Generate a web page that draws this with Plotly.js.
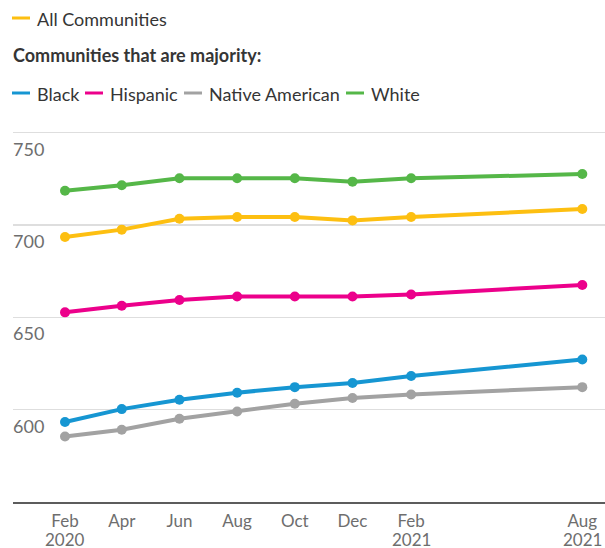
<!DOCTYPE html>
<html>
<head>
<meta charset="utf-8">
<script src="https://cdn.plot.ly/plotly-3.0.1.min.js"></script>
<style>html,body{margin:0;padding:0;background:#fff;}#chart{width:605px;height:548px;}</style>
</head>
<body>
<div id="chart"></div>
<script>
// ---- data ----
const dates = ['2020-02-01','2020-04-01','2020-06-01','2020-08-01','2020-10-01','2020-12-01','2021-02-01','2021-08-01'];
const tickMonths = ['Feb','Apr','Jun','Aug','Oct','Dec','Feb','Aug'];
const tickYears = ['2020','','','','','','2021','2021'];
const allCommunities = [693.5, 697.5, 703.4, 704.3, 704.3, 702.5, 704.3, 708.7];
const majorityBlack = [593.3, 600.3, 605.4, 609.2, 612.2, 614.4, 618.2, 627.2];
const majorityHispanic = [652.7, 656.3, 659.4, 661.3, 661.3, 661.3, 662.4, 667.5];
const majorityNativeAmerican = [585.5, 589.1, 595.1, 599.0, 603.2, 606.3, 608.2, 612.2];
const majorityWhite = [718.6, 721.5, 725.3, 725.3, 725.3, 723.5, 725.3, 727.6];
const yTickVals = [600, 650, 700, 750];

const seriesNames = ['All Communities','Black','Hispanic','Native American','White'];
const seriesValues = [allCommunities, majorityBlack, majorityHispanic, majorityNativeAmerican, majorityWhite];
const seriesColors = ['#fdbf11','#1696d2','#ec008b','#a2a2a2','#55b748'];
const legendTitle = 'Communities that are majority:';

// ---- layout helpers (pixel -> paper) ----
const W = 605, H = 548, mL = 13, mR = 0, mT = 129, mB = 46;
const px = x => (x - mL) / (W - mL - mR);
const py = y => (H - mB - y) / (H - mT - mB);

const order = [4, 0, 2, 1, 3];
const traces = order.map(i => ({
  type: 'scatter', mode: 'lines+markers', name: seriesNames[i],
  x: dates, y: seriesValues[i],
  line: {color: seriesColors[i], width: 4},
  marker: {color: seriesColors[i], size: 10},
  showlegend: false, hoverinfo: 'x+y+name'
}));

// custom legend: positions (px) of swatch starts
const legendPos = [[12, 18], [12, 93], [85, 93], [184, 93], [346, 93]];
const shapes = [], annotations = [];
seriesNames.forEach((n, i) => {
  const [lx, ly] = legendPos[i];
  shapes.push({type: 'line', xref: 'paper', yref: 'paper',
    x0: px(lx), x1: px(lx + 18), y0: py(ly), y1: py(ly),
    line: {color: seriesColors[i], width: 3}});
  annotations.push({xref: 'paper', yref: 'paper', x: px(lx + 23), y: py(ly + 1),
    xanchor: 'left', yanchor: 'middle', showarrow: false, text: n,
    font: {family: 'Lato', size: 18, color: '#353535'}});
});
annotations.push({xref: 'paper', yref: 'paper', x: px(11), y: py(55),
  xanchor: 'left', yanchor: 'middle', showarrow: false, text: '<b>' + legendTitle + '</b>',
  font: {family: 'Lato', size: 18, color: '#353535'}});
// year labels under month ticks
dates.forEach((d, i) => {
  if (!tickYears[i]) return;
  annotations.push({xref: 'x', yref: 'paper', x: d, y: py(539),
    xanchor: 'center', yanchor: 'middle', showarrow: false, text: tickYears[i],
    font: {family: 'Lato', size: 17, color: '#6e6e6e'}});
});

const layout = {
  width: W, height: H,
  margin: {l: mL, r: mR, t: mT, b: mB, pad: 0},
  paper_bgcolor: '#fff', plot_bgcolor: '#fff',
  font: {family: 'Lato', color: '#6e6e6e'},
  showlegend: false,
  xaxis: {
    type: 'date', range: ['2019-12-08', '2021-08-25'],
    tickvals: dates, ticktext: tickMonths, tickfont: {size: 17, color: '#6e6e6e'},
    ticklabelstandoff: 3,
    showgrid: false, zeroline: false, showline: true, linecolor: '#5c5c5c', linewidth: 2,
    ticks: '', fixedrange: true
  },
  yaxis: {
    range: [550, 752], tickvals: yTickVals, ticktext: yTickVals.map(String),
    ticklabelposition: 'inside bottom', ticklabelshift: 4, ticklabelstandoff: -3,
    tickfont: {size: 18, color: '#6e6e6e'},
    showgrid: true, gridcolor: '#dedede', gridwidth: 1.5,
    zeroline: false, showline: false, ticks: '', fixedrange: true
  },
  shapes: shapes, annotations: annotations
};

Plotly.newPlot('chart', traces, layout, {displayModeBar: false, staticPlot: true});
</script>
</body>
</html>
